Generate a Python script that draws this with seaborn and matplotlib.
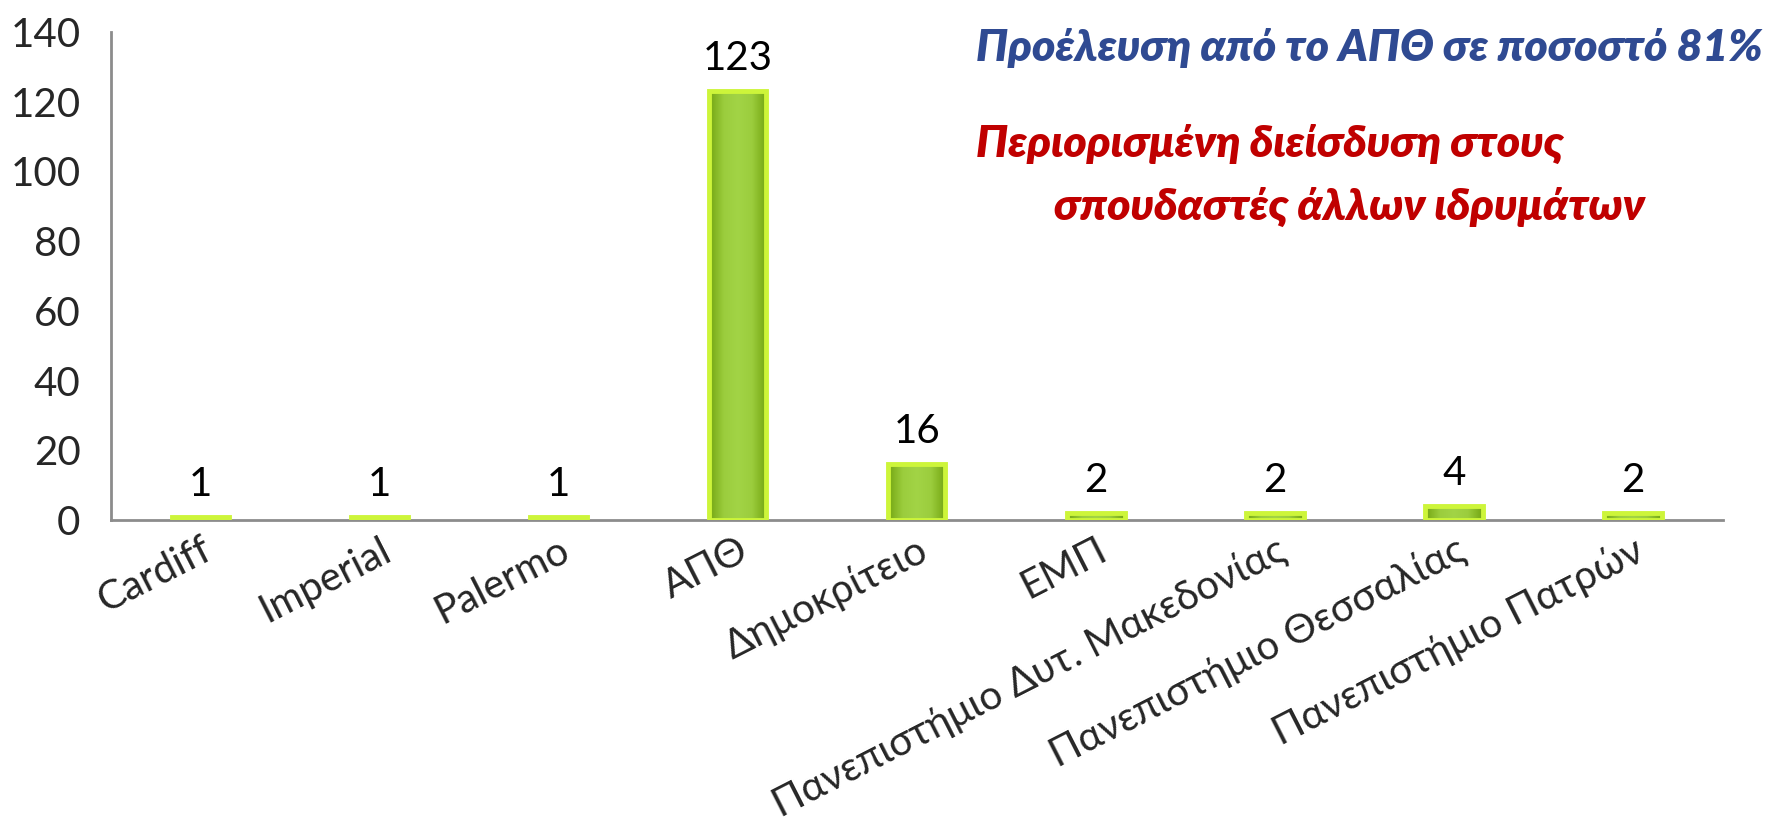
import matplotlib
matplotlib.use("Agg")
import matplotlib.pyplot as plt
from matplotlib.colors import LinearSegmentedColormap
import numpy as np
import pandas as pd
import seaborn as sns

# ΔΕΔΟΜΕΝΑ
idrymata = ["Cardiff", "Imperial", "Palermo", "ΑΠΘ", "Δημοκρίτειο", "ΕΜΠ",
            "Πανεπιστήμιο Δυτ. Μακεδονίας", "Πανεπιστήμιο Θεσσαλίας",
            "Πανεπιστήμιο Πατρών"]
foitites = [1, 1, 1, 123, 16, 2, 2, 4, 2]
y_ticks = [0, 20, 40, 60, 80, 100, 120, 140]

df = pd.DataFrame({"idryma": idrymata, "foitites": foitites})

sns.set_style("white")
plt.rcParams["font.family"] = ["Lato", "DejaVu Sans"]

fig = plt.figure(figsize=(17.74, 8.35), dpi=100)
ax = fig.add_axes([0.0626, 0.377, 0.9084, 0.585])

sns.barplot(data=df, x="idryma", y="foitites", width=0.32,
            color="#8dbf24", edgecolor="none", ax=ax)

# gradient μέσα σε κάθε μπάρα
cmap = LinearSegmentedColormap.from_list(
    "prasino", ["#74a612", "#9bcd3d", "#a2d446", "#9bcd3d", "#74a612"])
grad = np.linspace(0, 1, 64).reshape(1, -1)
for p in list(ax.patches):
    x0, y0 = p.get_x(), p.get_y()
    w, h = p.get_width(), p.get_height()
    im = ax.imshow(grad, cmap=cmap, aspect="auto", extent=(x0, x0 + w, y0, y0 + h),
                   zorder=2, interpolation="bicubic")
    im.set_clip_path(p)
    ax.add_patch(plt.Rectangle((x0, y0), w, h, fill=False, edgecolor="#cdf53a",
                               linewidth=3.5, zorder=3, joinstyle="miter"))

ax.set_xlim(-0.5, len(idrymata) - 0.5)
ax.set_ylim(0, 140)
ax.set_yticks(y_ticks)
ax.set_yticklabels([str(v) for v in y_ticks], fontsize=29)
ax.tick_params(axis="y", length=0, pad=22)
ax.tick_params(axis="x", length=0, pad=8)
ax.set_xticks(range(len(idrymata)))
ax.set_xticklabels(idrymata, fontsize=29, rotation=27, ha="right",
                   rotation_mode="anchor")
ax.set_xlabel("")
ax.set_ylabel("")

for s in ["top", "right"]:
    ax.spines[s].set_visible(False)
for s in ["left", "bottom"]:
    ax.spines[s].set_color("#8c8c8c")
    ax.spines[s].set_linewidth(2)

# τιμές πάνω από τις μπάρες
for i, v in enumerate(foitites):
    ax.annotate(str(v), (i, v), xytext=(0, 10), textcoords="offset points",
                ha="center", va="bottom", fontsize=29, color="black")

kwargs = dict(fontsize=32, fontweight="heavy", fontstyle="italic", va="center")
fig.text(0.55, 0.943, "Προέλευση από το ΑΠΘ σε ποσοστό 81%", color="#2f4a92", **kwargs)
fig.text(0.55, 0.828, "Περιορισμένη διείσδυση στους", color="#c00000", **kwargs)
fig.text(0.594, 0.752, "σπουδαστές άλλων ιδρυμάτων", color="#c00000", **kwargs)

fig.savefig("out.png", dpi=100, facecolor="white")
